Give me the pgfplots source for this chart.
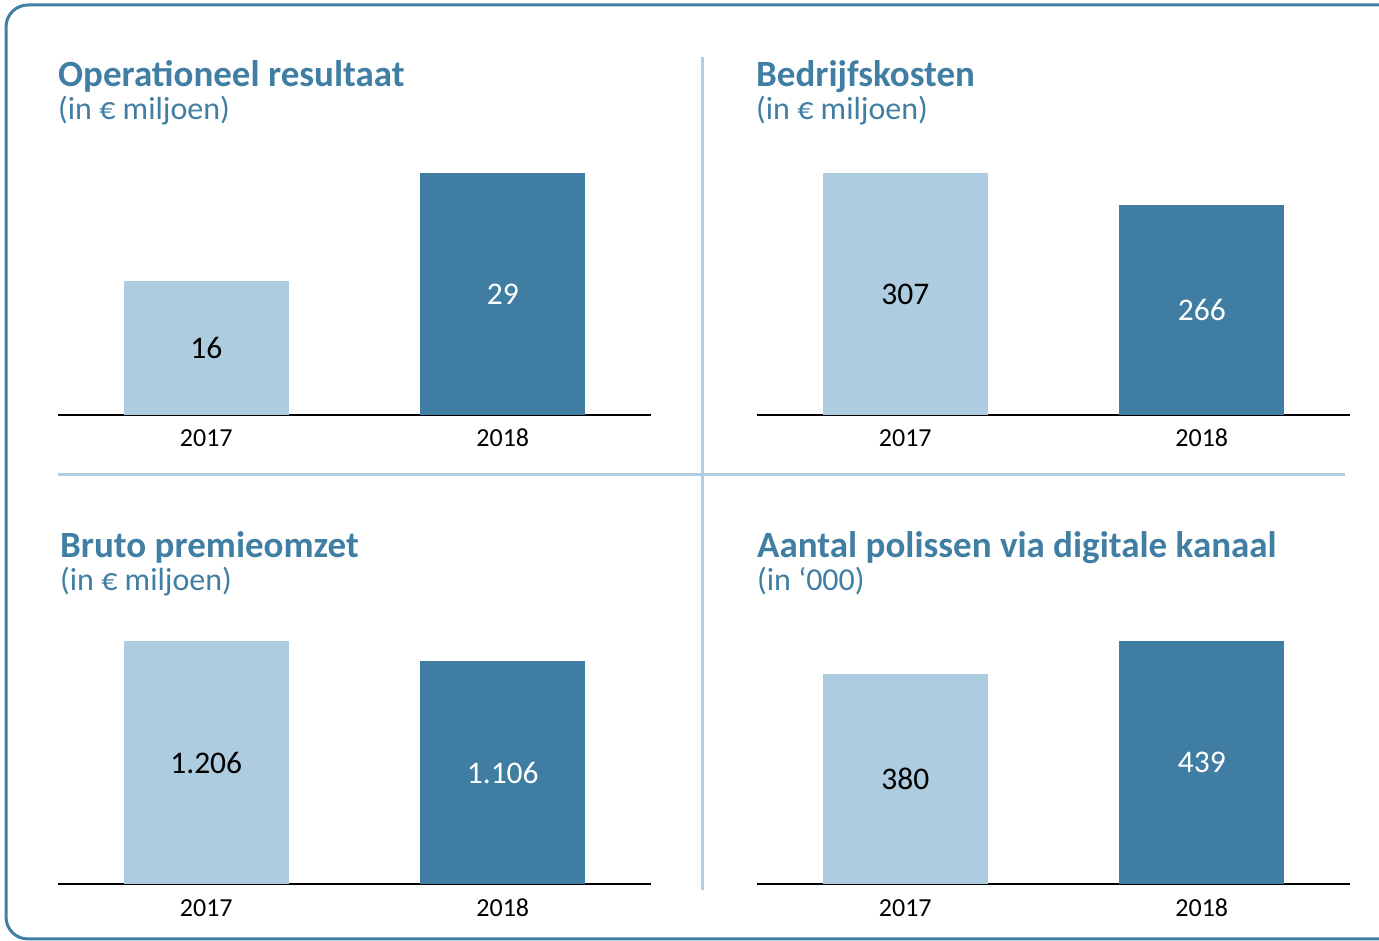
\documentclass[border=0pt]{standalone}
\usepackage{fontspec}
\setmainfont{Carlito}
\usepackage{pgfplots}
\pgfplotsset{compat=1.18}
\definecolor{light}{RGB}{173,204,223}
\definecolor{dark}{RGB}{63,126,162}
\definecolor{ttl}{RGB}{64,127,163}
\definecolor{divc}{RGB}{178,205,224}
\pgfplotsset{panel/.style={
  scale only axis, width=593bp, xmin=-0.5, xmax=1.5, ymin=0,
  axis x line=bottom, axis y line=none, axis line style={-, line width=1.6bp, black},
  xtick={0,1}, xticklabels={2017,2018}, xtick style={draw=none}, major tick length=0pt,
  xticklabel style={anchor=base, yshift=-32bp, font=\fontsize{26bp}{30bp}\selectfont},
  ybar, bar width=165bp, bar shift=0pt, clip=false,
  nodes near coords, point meta=explicit symbolic,
  every node near coord/.append style={anchor=center, font=\fontsize{31.5bp}{36bp}\selectfont, yshift=-\half bp},
}}
\begin{document}
\begin{tikzpicture}
\useasboundingbox (0,0) rectangle (1379bp,941bp);
\fill[white] (0,0) rectangle (1379bp,941bp);
\begin{scope}
\clip (0,0) rectangle (1379bp,941bp);
\draw[ttl, line width=3bp, rounded corners=22bp] (6bp,2bp) rectangle (1420bp,936bp);
\end{scope}
\draw[divc, line width=3bp] (702bp,884bp) -- (702bp,51bp);
\draw[divc, line width=3bp] (58bp,466bp) -- (1345bp,466bp);
% titles
\node[anchor=base west, inner sep=0, text=ttl, font=\fontsize{37bp}{40bp}\selectfont\bfseries] at (58bp,854bp) {Operationeel resultaat};
\node[anchor=base west, inner sep=0, text=ttl, font=\fontsize{32bp}{36bp}\selectfont] at (58bp,821bp) {(in € miljoen)};
\node[anchor=base west, inner sep=0, text=ttl, font=\fontsize{37bp}{40bp}\selectfont\bfseries] at (756bp,854bp) {Bedrijfskosten};
\node[anchor=base west, inner sep=0, text=ttl, font=\fontsize{32bp}{36bp}\selectfont] at (756bp,821bp) {(in € miljoen)};
\node[anchor=base west, inner sep=0, text=ttl, font=\fontsize{37bp}{40bp}\selectfont\bfseries] at (60bp,383bp) {Bruto premieomzet};
\node[anchor=base west, inner sep=0, text=ttl, font=\fontsize{32bp}{36bp}\selectfont] at (60bp,350bp) {(in € miljoen)};
\node[anchor=base west, inner sep=0, text=ttl, font=\fontsize{37bp}{40bp}\selectfont\bfseries] at (757bp,383bp) {Aantal polissen via digitale kanaal};
\node[anchor=base west, inner sep=0, text=ttl, font=\fontsize{32bp}{36bp}\selectfont] at (757bp,350bp) {(in ‘000)};
% panel 1
\begin{axis}[panel, at={(58bp,526bp)}, anchor=south west, height=242bp, ymax=29,
  visualization depends on={rawy*121/29 \as \half}]
\addplot[fill=light, draw=none, every node near coord/.append style={text=black}] coordinates {(0,16) [16]};
\addplot[fill=dark, draw=none, every node near coord/.append style={text=white}] coordinates {(1,29) [29]};
\end{axis}
% panel 2
\begin{axis}[panel, at={(757bp,526bp)}, anchor=south west, height=242bp, ymax=307,
  visualization depends on={rawy*121/307 \as \half}]
\addplot[fill=light, draw=none, every node near coord/.append style={text=black}] coordinates {(0,307) [307]};
\addplot[fill=dark, draw=none, every node near coord/.append style={text=white}] coordinates {(1,266) [266]};
\end{axis}
% panel 3
\begin{axis}[panel, at={(58bp,57bp)}, anchor=south west, height=243bp, ymax=1206,
  visualization depends on={rawy*121.5/1206 \as \half}]
\addplot[fill=light, draw=none, every node near coord/.append style={text=black}] coordinates {(0,1206) [1.206]};
\addplot[fill=dark, draw=none, every node near coord/.append style={text=white}] coordinates {(1,1106) [1.106]};
\end{axis}
% panel 4
\begin{axis}[panel, at={(757bp,57bp)}, anchor=south west, height=243bp, ymax=439,
  visualization depends on={rawy*121.5/439 \as \half}]
\addplot[fill=light, draw=none, every node near coord/.append style={text=black}] coordinates {(0,380) [380]};
\addplot[fill=dark, draw=none, every node near coord/.append style={text=white}] coordinates {(1,439) [439]};
\end{axis}
\end{tikzpicture}
\end{document}
